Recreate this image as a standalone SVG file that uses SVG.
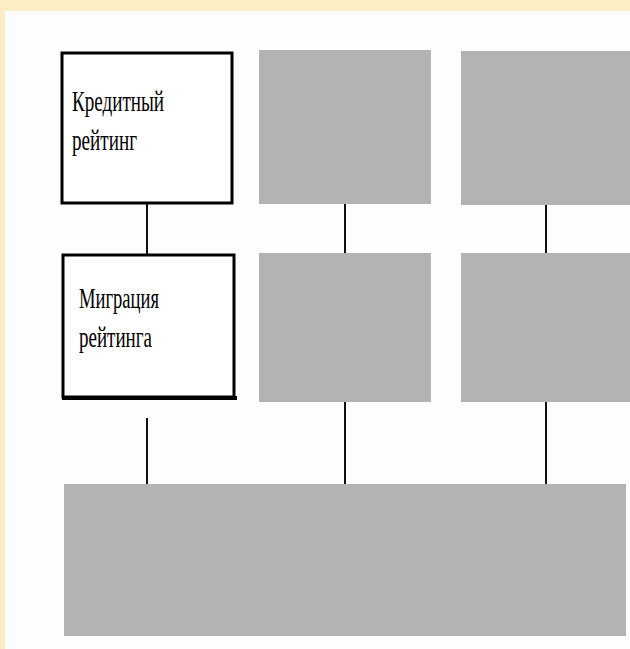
<svg xmlns="http://www.w3.org/2000/svg" width="630" height="649" viewBox="0 0 630 649">
  <style>
    .frame { fill: #ffffff; stroke: #000000; stroke-width: 3; }
    .blank { fill: #b3b3b3; }
    .link { stroke: #111111; stroke-width: 2; fill: none; }
    .label { font-family: "Liberation Serif", "DejaVu Serif", serif; font-size: 29px; fill: #000000; }
  </style>
  <!-- page background with a warm margin strip -->
  <rect x="0" y="0" width="630" height="649" fill="#fdedc4"/>
  <rect x="5" y="11" width="625" height="638" fill="#fdfdfd"/>

  <g id="connectors">
    <line class="link" x1="147" y1="204" x2="147" y2="255"/>
    <line class="link" x1="345" y1="204" x2="345" y2="253"/>
    <line class="link" x1="546" y1="205" x2="546" y2="253"/>
    <line class="link" x1="147" y1="418" x2="147" y2="484"/>
    <line class="link" x1="345" y1="402" x2="345" y2="484"/>
    <line class="link" x1="546" y1="402" x2="546" y2="484"/>
  </g>

  <g id="credit-rating">
    <rect class="frame" x="62" y="53" width="170" height="150"/>
    <text class="label" x="72" y="111" textLength="92" lengthAdjust="spacingAndGlyphs">Кредитный</text>
    <text class="label" x="72" y="150" textLength="65" lengthAdjust="spacingAndGlyphs">рейтинг</text>
  </g>

  <g id="rating-migration">
    <rect class="frame" x="63" y="255" width="171" height="142"/>
    <line x1="62" y1="398" x2="237" y2="398" stroke="#000" stroke-width="4"/>
    <text class="label" x="79" y="308" textLength="80" lengthAdjust="spacingAndGlyphs">Миграция</text>
    <text class="label" x="79" y="347" textLength="73" lengthAdjust="spacingAndGlyphs">рейтинга</text>
  </g>

  <g id="block-2-1"><rect class="blank" x="259" y="50" width="172" height="154"/></g>
  <g id="block-3-1"><rect class="blank" x="461" y="51" width="169" height="154"/></g>
  <g id="block-2-2"><rect class="blank" x="259" y="253" width="172" height="149"/></g>
  <g id="block-3-2"><rect class="blank" x="461" y="253" width="169" height="149"/></g>
  <g id="base"><rect class="blank" x="64" y="484" width="562" height="152"/></g>
</svg>
